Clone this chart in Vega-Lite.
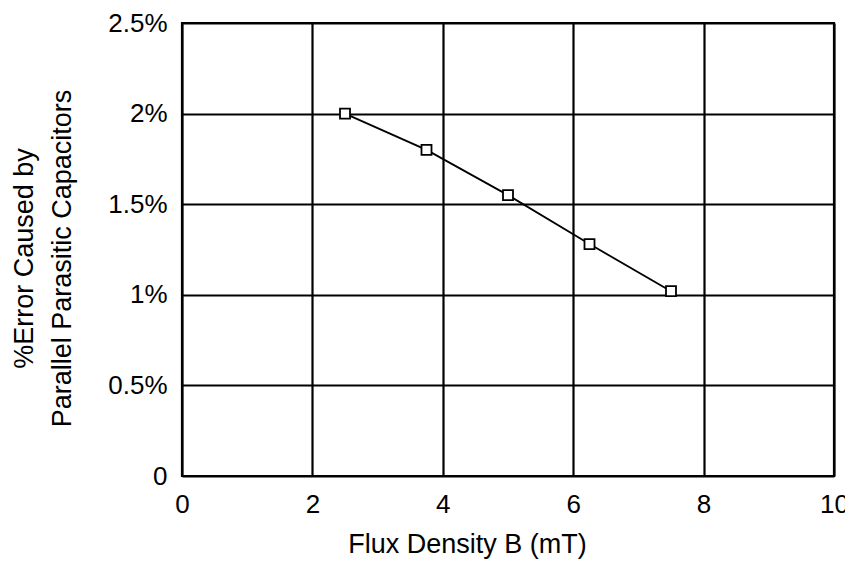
{
  "$schema": "https://vega.github.io/schema/vega-lite/v6.json",
  "width": 652,
  "height": 453,
  "autosize": "none",
  "padding": {"left": 182, "top": 23, "right": 11, "bottom": 87},
  "background": "white",
  "config": {
    "font": "Liberation Sans",
    "view": {"stroke": "black", "strokeWidth": 2.2},
    "axis": {
      "grid": true,
      "gridColor": "black",
      "gridWidth": 2.2,
      "gridOpacity": 1,
      "domain": false,
      "ticks": false,
      "labelFont": "Liberation Sans",
      "labelFontSize": 26,
      "labelColor": "black",
      "titleFont": "Liberation Sans",
      "titleFontWeight": "normal",
      "titleColor": "black",
      "titleFontSize": 27
    }
  },
  "data": {
    "values": [
      {"B": 2.5, "err": 2.0},
      {"B": 3.75, "err": 1.8},
      {"B": 5.0, "err": 1.55},
      {"B": 6.25, "err": 1.28},
      {"B": 7.5, "err": 1.02}
    ]
  },
  "encoding": {
    "x": {
      "field": "B",
      "type": "quantitative",
      "scale": {"domain": [0, 10], "nice": false},
      "axis": {
        "values": [0, 2, 4, 6, 8, 10],
        "title": "Flux Density B (mT)",
        "labelBaseline": "alphabetic",
        "labelPadding": 36,
        "labelFlush": false,
        "titleBaseline": "alphabetic",
        "titleX": 285,
        "titleY": 76
      }
    },
    "y": {
      "field": "err",
      "type": "quantitative",
      "scale": {"domain": [0, 2.5], "nice": false},
      "axis": {
        "values": [0, 0.5, 1, 1.5, 2, 2.5],
        "labelExpr": "datum.value == 0 ? '0' : datum.value + '%'",
        "title": ["%Error Caused by", "Parallel Parasitic Capacitors"],
        "labelPadding": 15,
        "labelFlush": false,
        "titleBaseline": "alphabetic",
        "titleAngle": -90,
        "titleX": -150,
        "titleY": 235,
        "titleLineHeight": 38
      }
    }
  },
  "layer": [
    {"mark": {"type": "line", "color": "black", "strokeWidth": 1.8}},
    {"mark": {"type": "point", "shape": "square", "filled": true, "fill": "white", "stroke": "black", "strokeWidth": 1.8, "size": 100, "opacity": 1}}
  ]
}
